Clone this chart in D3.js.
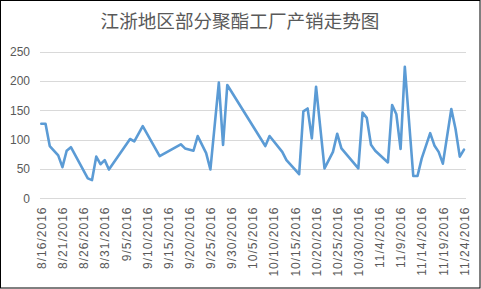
<!DOCTYPE html>
<html>
<head>
<meta charset="utf-8">
<script src="https://cdn.jsdelivr.net/npm/d3@7"></script>
<style>
  body { margin: 0; background: #fff; }
  svg { display: block; }
</style>
</head>
<body>
<div id="chart"></div>
<script>
// chart data
var chartTitle = "江浙地区部分聚酯工厂产销走势图";
var dates = ["8/16/2016","8/17/2016","8/18/2016","8/20/2016","8/21/2016","8/22/2016","8/23/2016",
	"8/27/2016","8/28/2016","8/29/2016","8/30/2016","8/31/2016","9/1/2016","9/6/2016","9/7/2016",
	"9/9/2016","9/13/2016","9/18/2016","9/19/2016","9/21/2016","9/22/2016","9/24/2016","9/25/2016",
	"9/27/2016","9/28/2016","9/29/2016","10/8/2016","10/9/2016","10/12/2016","10/13/2016","10/16/2016",
	"10/17/2016","10/18/2016","10/19/2016","10/20/2016","10/22/2016","10/24/2016","10/25/2016","10/26/2016",
	"10/30/2016","10/31/2016","11/1/2016","11/2/2016","11/3/2016","11/6/2016","11/7/2016","11/8/2016",
	"11/9/2016","11/10/2016","11/12/2016","11/13/2016","11/14/2016","11/16/2016","11/17/2016","11/18/2016",
	"11/19/2016","11/21/2016","11/22/2016","11/23/2016","11/24/2016"];
var values = [127,127,89,73,53,81,87,
	34,31,71,58,65,49,101,97,
	123,72,92,85,81,106,77,49,
	197,91,193,89,106,79,65,41,
	148,153,102,190,51,79,110,85,
	51,146,137,91,81,61,159,143,
	84,224,38,38,68,111,90,79,
	59,152,118,71,83];
var xTickLabels = ["8/16/2016","8/21/2016","8/26/2016","8/31/2016","9/5/2016","9/10/2016","9/15/2016",
	"9/20/2016","9/25/2016","9/30/2016","10/5/2016","10/10/2016","10/15/2016","10/20/2016","10/25/2016",
	"10/30/2016","11/4/2016","11/9/2016","11/14/2016","11/19/2016","11/24/2016"];
var yTicks = [0, 50, 100, 150, 200, 250];

var W = 481, H = 289;
var plot = {left: 40, right: 466};
var textColor = "#595959";
var lineColor = "#5B9BD5";

var parseDate = d3.utcParse("%m/%d/%Y");

var svg = d3.select("#chart").append("svg")
	.attr("width", W)
	.attr("height", H);

// outer border of the chart
svg.append("rect")
	.attr("x", 0.5).attr("y", 0.5)
	.attr("width", W - 1.5).attr("height", H - 1.5)
	.style("fill", "#fff")
	.style("stroke", "#000");

var x = d3.scaleUtc()
	.domain([parseDate(xTickLabels[0]), parseDate(xTickLabels[xTickLabels.length - 1])])
	.range([41.3, 464]);

var y = d3.scaleLinear()
	.domain([0, 250])
	.range([198.3, 51.5]);

// title
svg.append("text")
	.attr("x", 240)
	.attr("y", 28)
	.attr("text-anchor", "middle")
	.style("font-family", "'Noto Sans CJK SC', sans-serif")
	.style("font-size", "18.6px")
	.style("fill", textColor)
	.text(chartTitle);

// y axis: gridlines + labels
var yAxis = svg.append("g")
	.attr("transform", "translate(" + plot.left + ",0)")
	.call(d3.axisLeft(y).tickValues(yTicks).tickSize(-(plot.right - plot.left)).tickPadding(10));
yAxis.select(".domain").remove();
yAxis.selectAll(".tick line")
	.style("stroke", "#D9D9D9")
	.attr("shape-rendering", "crispEdges");
yAxis.selectAll(".tick text")
	.style("font-family", "'Liberation Sans', Arial, sans-serif")
	.style("font-size", "12px")
	.style("fill", textColor);

// x axis: rotated date labels, no tick marks
var xAxis = svg.append("g")
	.attr("transform", "translate(0,198)")
	.call(d3.axisBottom(x)
		.tickValues(xTickLabels.map(parseDate))
		.tickFormat(function(d, i){ return xTickLabels[i]; })
		.tickSize(0));
xAxis.select(".domain").remove();
xAxis.selectAll(".tick text")
	.attr("transform", "rotate(-90)")
	.attr("text-anchor", "end")
	.attr("x", -8.5)
	.attr("y", 0)
	.attr("dy", "0.35em")
	.style("font-family", "'Liberation Sans', Arial, sans-serif")
	.style("font-size", "12px")
	.style("letter-spacing", "1px")
	.style("fill", textColor);

// the series line
var points = dates.map(function(d, i){ return {date: parseDate(d), value: values[i]}; });

var line = d3.line()
	.x(function(d){ return x(d.date); })
	.y(function(d){ return y(d.value); });

svg.append("path")
	.datum(points)
	.attr("d", line)
	.style("fill", "none")
	.style("stroke", lineColor)
	.style("stroke-width", 2.6)
	.style("stroke-linejoin", "round")
	.style("stroke-linecap", "round");
</script>
</body>
</html>
